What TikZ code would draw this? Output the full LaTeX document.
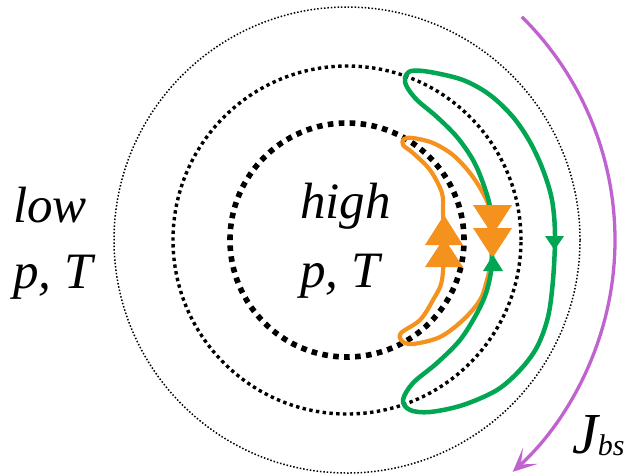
\documentclass[tikz,border=0pt]{standalone}
\usepackage{fontspec}
\setmainfont{Liberation Serif}
\usetikzlibrary{arrows.meta,calc}
\definecolor{orng}{HTML}{F5921E}
\definecolor{grn}{HTML}{00A651}
\definecolor{prpl}{HTML}{C062D0}
\begin{document}
\begin{tikzpicture}[x=1pt,y=-1pt,
  lbl/.style={font=\fontsize{51}{60}\selectfont\itshape, inner sep=0pt, anchor=base west},
  ringinner/.style={line width=5.6pt, dash pattern=on 5.6pt off 5.37pt},
  ringmid/.style={line width=3.4pt, dash pattern=on 3.4pt off 3.4pt},
  ringouter/.style={line width=1.5pt, dash pattern=on 1.5pt off 1.9pt},
  orbitg/.style={draw=grn, line width=4.5pt, line join=round},
  orbito/.style={draw=orng, line width=4.2pt, line join=round},
  current/.style={draw=prpl, line width=3.3pt, -{Stealth[length=24pt, width=22pt, inset=13pt]}}]
\useasboundingbox (0,0) rectangle (626,475);
\coordinate (c) at (347,240);
% flux surfaces
\draw[ringinner] (c) circle[radius=117pt];
\draw[ringmid] (c) circle[radius=174pt];
\draw[ringouter] (c) circle[radius=233pt];
% orange banana orbit
\draw[orbito] plot[smooth cycle, tension=0.55] coordinates {
 (444,240) (443,213) (442,193) (430,170) (413,153) (403,145) (404,139) (413,138)
 (433,143) (453,155) (470,173) (483,193) (490,210) (493,235) (491,262) (487,280)
 (480,300) (463,320) (440,337) (413,344) (402,341) (401,333) (420,320) (433,300) (442,280)};
% green banana orbit
\draw[orbitg] plot[smooth cycle, tension=0.55] coordinates {
 (492,262) (490,230) (490,207) (483,183) (473,160) (457,137) (437,117) (417,100)
 (407,87) (405,78) (411,71) (430,72) (463,80) (490,95) (513,117) (530,142)
 (543,170) (552,200) (555,235) (553,280) (548,317) (537,347) (520,370) (497,390)
 (463,405) (430,412) (410,410) (403,400) (413,383) (437,363) (460,340) (477,313) (487,290)};
% orange arrowheads
\fill[orng] (473,205) -- (512,205) -- (492.5,235) -- cycle;
\fill[orng] (473,228) -- (512,228) -- (492.5,258) -- cycle;
\fill[orng] (425,245) -- (463,245) -- (444,215) -- cycle;
\fill[orng] (425,267) -- (463,267) -- (444,238) -- cycle;
% green arrowheads
\fill[grn] (545,236) -- (564,236) -- (554.5,250) -- cycle;
\fill[grn] (483,271) -- (503,271) -- (493,255) -- cycle;
% bootstrap current
\coordinate (jc) at (301,240);
\coordinate (jstart) at ($(jc)+(45.3:314pt)$);
\draw[current] (jstart) arc[start angle=45.3, end angle=-47.6, radius=314pt];
% labels
\node[lbl] (low1) at (13,222) {low};
\node[lbl] (low2) at (13,288) {p, T};
\node[lbl] (high1) at (300,218) {high};
\node[lbl] (high2) at (300,287) {p, T};
\node[inner sep=0pt, anchor=base west] (jbs) at (572,453)
  {\fontsize{58}{60}\selectfont\itshape J\raisebox{-2pt}{\fontsize{30}{34}\selectfont bs}};
\end{tikzpicture}
\end{document}
